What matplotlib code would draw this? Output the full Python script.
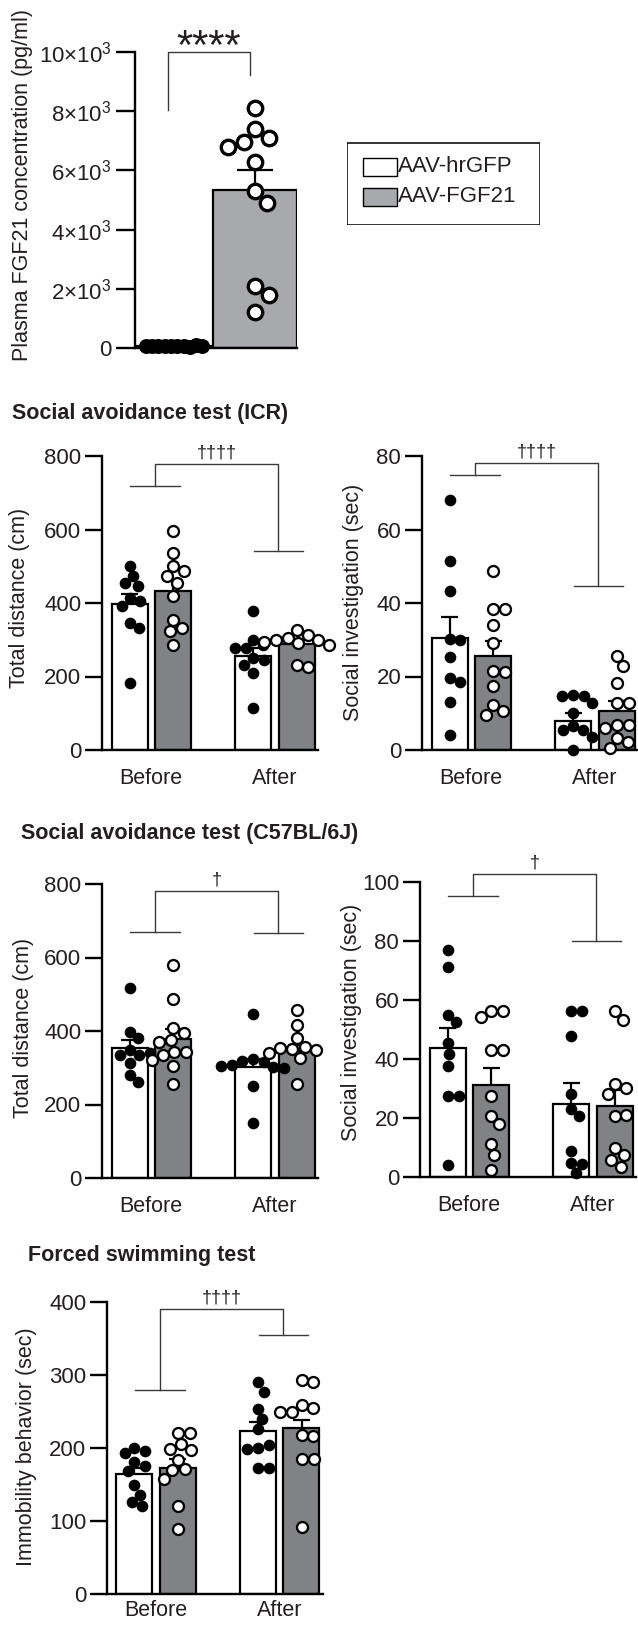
import numpy as np
import matplotlib
matplotlib.use('Agg')
import matplotlib.pyplot as plt
from matplotlib.patches import Rectangle

plt.rcParams['font.family'] = ['Liberation Sans', 'DejaVu Sans']
plt.rcParams['mathtext.fontset'] = 'custom'
plt.rcParams['mathtext.rm'] = 'Liberation Sans'
plt.rcParams['mathtext.it'] = 'Liberation Sans:italic'
plt.rcParams['mathtext.bf'] = 'Liberation Sans:bold'

# ---- data ----
groups = ['Before', 'After']
legend_labels = ['AAV-hrGFP', 'AAV-FGF21']

# plasma FGF21 (pg/ml)
fgf_hr = [60, 75, 55, 80, 65, 70, 50, 85, 62, 72]
fgf_fg = [8100, 7400, 7100, 6950, 6800, 6300, 5300, 4900, 2100, 1800, 1200]
fgf_mean = [70, 5340]
fgf_sem = [5, 670]

# social avoidance ICR - total distance (cm)
icr_dist_hr = [[501, 473, 455, 446, 414, 405, 391, 346, 332, 181],
               [378, 300, 286, 277, 277, 250, 245, 232, 209, 113]]
icr_dist_fg = [[596, 537, 501, 487, 473, 455, 419, 355, 332, 323, 286],
               [327, 314, 305, 300, 300, 295, 291, 286, 232, 227]]
icr_dist_hr_mean, icr_dist_hr_sem = [397, 257], [27, 21]
icr_dist_fg_mean, icr_dist_fg_sem = [432, 288], [30, 11]

# social avoidance ICR - social investigation (sec)
icr_si_hr = [[68.1, 51.3, 43.3, 30.1, 29.8, 25.3, 19.6, 18.5, 13.0, 4.2],
             [15.0, 14.8, 14.8, 12.8, 10.0, 6.4, 5.5, 5.5, 3.6, 0.0]]
icr_si_fg = [[48.8, 38.3, 38.3, 33.9, 29.2, 21.6, 21.2, 17.3, 12.3, 10.5, 9.6],
             [25.5, 22.8, 18.2, 12.8, 12.8, 6.8, 6.8, 5.9, 3.2, 2.3, 0.5]]
icr_si_hr_mean, icr_si_hr_sem = [30.4, 7.8], [5.9, 2.2]
icr_si_fg_mean, icr_si_fg_sem = [25.5, 10.7], [4.1, 2.5]

# social avoidance C57BL/6J - total distance (cm)
c57_dist_hr = [[516, 398, 380, 348, 335, 335, 339, 312, 280, 262],
               [445, 323, 317, 319, 308, 303, 298, 305, 249, 149]]
c57_dist_fg = [[580, 487, 407, 394, 375, 371, 344, 344, 335, 321, 306, 255],
               [457, 416, 380, 356, 350, 353, 348, 341, 326, 255]]
c57_dist_hr_mean, c57_dist_hr_sem = [353, 301], [22, 23]
c57_dist_fg_mean, c57_dist_fg_sem = [378, 345], [27, 17]

# social avoidance C57BL/6J - social investigation (sec)
c57_si_hr = [[76.8, 71.2, 54.8, 52.5, 45.5, 41.8, 37.5, 27.3, 27.3, 4.2],
             [56.3, 56.3, 47.7, 28.0, 23.2, 20.7, 8.7, 4.6, 4.4, 1.2]]
c57_si_fg = [[56.3, 56.3, 54.2, 42.9, 42.9, 27.4, 20.8, 17.8, 11.3, 7.4, 2.5],
             [56.3, 53.3, 31.4, 30.3, 28.0, 20.7, 21.1, 9.7, 7.4, 5.8, 3.5]]
c57_si_hr_mean, c57_si_hr_sem = [43.8, 24.9], [6.8, 7.1]
c57_si_fg_mean, c57_si_fg_sem = [31.1, 24.1], [5.9, 5.3]

# forced swimming - immobility (sec)
fst_hr = [[200, 196, 193, 181, 176, 169, 149, 136, 126, 121],
          [290, 277, 254, 240, 226, 200, 204, 198, 172, 172]]
fst_fg = [[221, 220, 205, 198, 197, 184, 171, 170, 158, 120, 89],
          [293, 291, 259, 255, 249, 249, 218, 216, 185, 185, 92]]
fst_hr_mean, fst_hr_sem = [164, 223], [9, 12]
fst_fg_mean, fst_fg_sem = [172, 227], [13, 12]

# significance bracket levels: (left arm, right arm, top, label)
icr_dist_sig = (718, 542, 777, '††††')
icr_si_sig = (74.8, 44.5, 78, '††††')
c57_dist_sig = (670, 666, 782, '†')
c57_si_sig = (95.3, 80, 102.8, '†')
fst_sig = (279, 355, 390, '††††')

# ---- layout ----
W, H = 638, 1625
TXT = '#231f20'
fig = plt.figure(figsize=(W / 100, H / 100), dpi=100)


def place(x0, y0, x1, y1):
    return fig.add_axes([x0 / W, 1 - y1 / H, (x1 - x0) / W, (y1 - y0) / H])


def swarm(vals, ypx, diam):
    # simple beeswarm: nearest free horizontal slot, in pixels
    ys = np.asarray(vals, float) * ypx
    xs = np.zeros(len(ys))
    done = []
    for i in range(len(ys)):
        bad = []
        for j in done:
            dy = abs(ys[j] - ys[i])
            if dy < diam:
                dx = np.sqrt(diam ** 2 - dy ** 2)
                bad.append((xs[j] - dx, xs[j] + dx))
        cands = [0.0] + [a for a, b in bad] + [b for a, b in bad]
        cands.sort(key=lambda c: (abs(c), -c))
        for c in cands:
            if all(not (a + 1e-6 < c < b - 1e-6) for a, b in bad):
                xs[i] = c
                break
        done.append(i)
    return xs


def style(ax, ymax, yticks, ticklen=12, xpad=13):
    for s in ('top', 'right'):
        ax.spines[s].set_visible(False)
    for s in ('left', 'bottom'):
        ax.spines[s].set_linewidth(1.7)
        ax.spines[s].set_color('black')
    ax.set_ylim(0, ymax)
    ax.set_yticks(yticks)
    ax.tick_params(axis='y', length=ticklen, width=1.7, labelsize=16, pad=3,
                   labelcolor=TXT)
    ax.tick_params(axis='x', length=0, labelsize=15.5, pad=xpad, labelcolor=TXT)
    ax.patch.set_alpha(0)


XS = 123.5                 # px per group
OFF = 21.75 / XS
BW = 36 / XS
CAP = 8.5 / XS
XLIM = (-49.25 / XS, 1 + 43.25 / XS)


def grouped(ax, hr, fg, hr_m, hr_s, fg_m, fg_s, ymax, yticks, ypx, sig, xpad=13):
    centers = np.arange(len(groups))
    hx, fx = centers - OFF, centers + OFF
    ax.bar(hx, hr_m, BW, color='white', edgecolor='black', linewidth=1.6, zorder=1)
    ax.bar(fx, fg_m, BW, color='#808285', edgecolor='black', linewidth=1.6, zorder=1)
    for x, m, s in zip(np.r_[hx, fx], hr_m + fg_m, hr_s + fg_s):
        ax.vlines(x, m, m + s, color='black', lw=1.6, zorder=2)
        ax.hlines(m + s, x - CAP, x + CAP, color='black', lw=1.6, zorder=2)
    for i in range(len(groups)):
        dx = swarm(hr[i], ypx, 11) / XS
        ax.plot(hx[i] + dx, hr[i], 'o', ms=8.4, mfc='black', mec='black', mew=0,
                clip_on=False, zorder=3)
        dx = swarm(fg[i], ypx, 12) / XS
        ax.plot(fx[i] + dx, fg[i], 'o', ms=7.9, mfc='white', mec='black', mew=1.65,
                clip_on=False, zorder=3)
    ax.set_xlim(XLIM)
    ax.set_xticks(centers)
    ax.set_xticklabels(groups)
    style(ax, ymax, yticks, xpad=xpad)
    yl, yr, yt, lab = sig
    bx = 0.03
    kw = dict(color='#3a3a3a', lw=1.0, clip_on=False)
    ax.plot([bx - 0.2, bx + 0.2], [yl, yl], **kw)
    ax.plot([bx, bx, 1 + bx, 1 + bx], [yl, yt, yt, yr], **kw)
    ax.plot([1 + bx - 0.2, 1 + bx + 0.2], [yr, yr], **kw)
    ax.annotate(lab, (0.5 + bx, yt), xytext=(0, 8), textcoords='offset points',
                ha='center', va='center', fontsize=13, color=TXT,
                annotation_clip=False)


# ---- panel A: plasma FGF21 ----
axA = place(135, 52, 297, 348)
axA.bar([0, 1], fgf_mean, 1.0, color=['white', '#a7a9ac'], edgecolor='black',
        linewidth=1.6, zorder=1)
axA.vlines(1, fgf_mean[1], fgf_mean[1] + fgf_sem[1], color='black', lw=1.6, zorder=2)
axA.hlines(fgf_mean[1] + fgf_sem[1], 1 - 0.21, 1 + 0.21, color='black', lw=1.6, zorder=2)
ypxA = 296 / 10000
axA.plot(0 + swarm(fgf_hr, ypxA, 6.3) / 84, fgf_hr, 'o', ms=10.8, mfc='black',
         mec='black', mew=0, clip_on=False, zorder=3)
axA.plot(1 + swarm(fgf_fg, ypxA, 17) / 84, fgf_fg, 'o', ms=10.4, mfc='white',
         mec='black', mew=2.4, clip_on=False, zorder=3)
axA.set_xlim(-36 / 84, 1 + 42 / 84)
axA.set_xticks([])
style(axA, 10000, [0, 2000, 4000, 6000, 8000, 10000], ticklen=14)
axA.set_yticklabels(['0', r'2×$10^{3}$', r'4×$10^{3}$', r'6×$10^{3}$',
                     r'8×$10^{3}$', r'10×$10^{3}$'])
kwA = dict(color='#3a3a3a', lw=1.0, clip_on=False)
axA.plot([-0.04, -0.04, 0.94, 0.94], [8040, 10000, 10000, 9220], **kwA)
axA.annotate('****', (0.45, 10000), xytext=(0, -5), textcoords='offset points',
             ha='center', va='baseline', fontsize=30, color=TXT,
             annotation_clip=False)
fig.text(23 / W, 1 - 185 / H, 'Plasma FGF21 concentration (pg/ml)', rotation=90,
         ha='center', va='center', fontsize=15.5, color=TXT)

# legend
lax = place(347, 142, 540, 225)
lax.set_xlim(347, 540)
lax.set_ylim(225, 142)
lax.axis('off')
lax.add_patch(Rectangle((347.5, 142.5), 192, 82, fill=False, ec='black', lw=1.1))
for k, (lab, col) in enumerate(zip(legend_labels, ['white', '#a7a9ac'])):
    y0 = 158 + 30 * k
    lax.add_patch(Rectangle((363, y0), 34, 18, fc=col, ec='black', lw=1.0))
    lax.text(398, y0 + 9, lab, ha='left', va='center', fontsize=16, color=TXT)

# ---- ICR ----
fig.text(12 / W, 1 - 413 / H, 'Social avoidance test (ICR)', fontsize=15.5,
         fontweight='bold', ha='left', va='center', color=TXT)
axB1 = place(102, 456, 318, 750)
grouped(axB1, icr_dist_hr, icr_dist_fg, icr_dist_hr_mean, icr_dist_hr_sem,
        icr_dist_fg_mean, icr_dist_fg_sem, 800, [0, 200, 400, 600, 800],
        294 / 800, icr_dist_sig)
fig.text(20 / W, 1 - 598 / H, 'Total distance (cm)', rotation=90, ha='center',
         va='center', fontsize=15.5, color=TXT)
axB2 = place(422, 456, 638, 750)
grouped(axB2, icr_si_hr, icr_si_fg, icr_si_hr_mean, icr_si_hr_sem,
        icr_si_fg_mean, icr_si_fg_sem, 80, [0, 20, 40, 60, 80],
        294 / 80, icr_si_sig)
fig.text(354 / W, 1 - 602 / H, 'Social investigation (sec)', rotation=90,
         ha='center', va='center', fontsize=15.5, color=TXT)

# ---- C57BL/6J ----
fig.text(21 / W, 1 - 833 / H, 'Social avoidance test (C57BL/6J)', fontsize=15.5,
         fontweight='bold', ha='left', va='center', color=TXT)
axC1 = place(102, 884, 318, 1178)
grouped(axC1, c57_dist_hr, c57_dist_fg, c57_dist_hr_mean, c57_dist_hr_sem,
        c57_dist_fg_mean, c57_dist_fg_sem, 800, [0, 200, 400, 600, 800],
        294 / 800, c57_dist_sig)
fig.text(24 / W, 1 - 1028 / H, 'Total distance (cm)', rotation=90, ha='center',
         va='center', fontsize=15.5, color=TXT)
axC2 = place(420, 882, 636, 1177)
grouped(axC2, c57_si_hr, c57_si_fg, c57_si_hr_mean, c57_si_hr_sem,
        c57_si_fg_mean, c57_si_fg_sem, 100, [0, 20, 40, 60, 80, 100],
        295 / 100, c57_si_sig)
fig.text(351 / W, 1 - 1022 / H, 'Social investigation (sec)', rotation=90,
         ha='center', va='center', fontsize=15.5, color=TXT)

# ---- forced swimming ----
fig.text(28 / W, 1 - 1255 / H, 'Forced swimming test', fontsize=15.5,
         fontweight='bold', ha='left', va='center', color=TXT)
axD = place(107, 1302, 323, 1594)
grouped(axD, fst_hr, fst_fg, fst_hr_mean, fst_hr_sem, fst_fg_mean, fst_fg_sem,
        400, [0, 100, 200, 300, 400], 292 / 400, fst_sig, xpad=4)
fig.text(27 / W, 1 - 1447 / H, 'Immobility behavior (sec)', rotation=90,
         ha='center', va='center', fontsize=15.5, color=TXT)

fig.savefig('out.png', dpi=100)
